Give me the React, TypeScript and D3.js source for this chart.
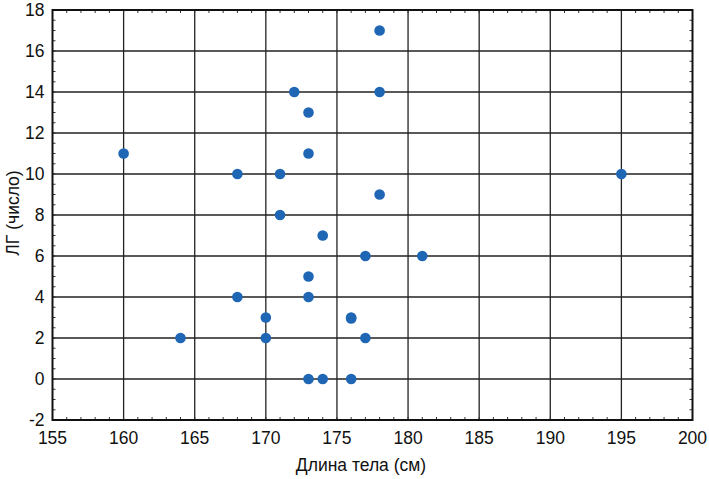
import React from "react";
import * as d3 from "d3";

const bodyLength = [160, 164, 168, 168, 170, 170, 171, 171, 172, 173, 173, 173, 173, 173, 174, 174, 176, 176, 176, 177, 177, 178, 178, 178, 181, 195];
const lgCount = [11, 2, 10, 4, 3, 2, 10, 8, 14, 13, 11, 5, 4, 0, 7, 0, 3, 2.95, 0, 6, 2, 17, 14, 9, 6, 10];
const xTicks = [155, 160, 165, 170, 175, 180, 185, 190, 195, 200];
const yTicks = [-2, 0, 2, 4, 6, 8, 10, 12, 14, 16, 18];
const xTitle = "Длина тела (см)";
const yTitle = "ЛГ (число)";

export default function App() {
  const W = 709, H = 479;
  const left = 52.5, right = 692.5, top = 10, bottom = 420;
  const x = d3.scaleLinear().domain([155, 200]).range([left, right]);
  const y = d3.scaleLinear().domain([-2, 18]).range([bottom, top]);
  const font = "'Liberation Sans', Arial, sans-serif";
  const fs = 17.5;
  const minorX = d3.range(155, 201, 1);
  const minorY = d3.range(-2, 18.01, 0.5);
  return (
    <svg width={W} height={H} style={{ position: "absolute", left: 0, top: 0, background: "#fff" }}>
      <rect x={0} y={0} width={W} height={H} fill="#fff" />
      {xTicks.slice(1, -1).map((t) => (
        <line key={"gx" + t} x1={x(t)} x2={x(t)} y1={top} y2={bottom} stroke="#222" strokeWidth={1.3} />
      ))}
      {yTicks.slice(1, -1).map((t) => (
        <line key={"gy" + t} x1={left} x2={right} y1={y(t)} y2={y(t)} stroke="#222" strokeWidth={1.3} />
      ))}
      {minorX.map((t) => (
        <g key={"mx" + t}>
          <line x1={x(t)} x2={x(t)} y1={top} y2={top + 3} stroke="#333" strokeWidth={1} />
          <line x1={x(t)} x2={x(t)} y1={bottom} y2={bottom - 3} stroke="#333" strokeWidth={1} />
        </g>
      ))}
      {minorY.map((t) => (
        <g key={"my" + t}>
          <line x1={left} x2={left + 3} y1={y(t)} y2={y(t)} stroke="#333" strokeWidth={1} />
          <line x1={right} x2={right - 3} y1={y(t)} y2={y(t)} stroke="#333" strokeWidth={1} />
        </g>
      ))}
      <rect x={left} y={top} width={right - left} height={bottom - top} fill="none" stroke="#111" strokeWidth={2} />
      {bodyLength.map((v, i) => (
        <circle key={"p" + i} cx={x(v)} cy={y(lgCount[i])} r={5.3} fill="#1f66b5" />
      ))}
      {xTicks.map((t) => (
        <text key={"tx" + t} x={x(t)} y={443.5} textAnchor="middle" fontFamily={font} fontSize={fs} fill="#111">
          {t}
        </text>
      ))}
      {yTicks.map((t) => (
        <text key={"ty" + t} x={44.5} y={y(t) + 6.3} textAnchor="end" fontFamily={font} fontSize={fs} fill="#111">
          {t}
        </text>
      ))}
      <text x={361} y={470.5} textAnchor="middle" fontFamily={font} fontSize={fs} fill="#111">
        {xTitle}
      </text>
      <text transform={`translate(18.5, 213) rotate(-90)`} textAnchor="middle" fontFamily={font} fontSize={fs} fill="#111">
        {yTitle}
      </text>
    </svg>
  );
}
